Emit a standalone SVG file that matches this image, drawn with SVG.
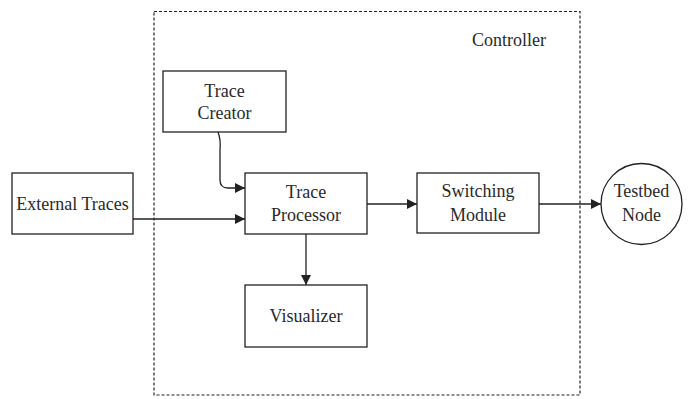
<svg xmlns="http://www.w3.org/2000/svg" width="692" height="399" viewBox="0 0 692 399">
  <style>
    .box { fill: #fff; stroke: #222; stroke-width: 1.3; }
    .lbl { font-family: "Liberation Serif", "Times New Roman", serif; font-size: 18px; fill: #2a2a2a; text-anchor: middle; }
    .edge { fill: none; stroke: #222; stroke-width: 1.3; }
  </style>
  <defs>
    <marker id="arrow" viewBox="0 0 10 10" refX="10" refY="5" markerWidth="10" markerHeight="10" markerUnits="userSpaceOnUse" orient="auto">
      <path d="M0,0 L10,5 L0,10 z" fill="#222"/>
    </marker>
  </defs>
  <rect width="692" height="399" fill="#fff"/>

  <!-- Controller boundary -->
  <g id="controller">
    <rect x="154" y="11.5" width="426" height="383.5" fill="none" stroke="#222" stroke-width="1.2" stroke-dasharray="3,2"/>
    <text class="lbl" x="509" y="46">Controller</text>
  </g>

  <g id="trace-creator">
    <rect class="box" x="163" y="71" width="123" height="61"/>
    <text class="lbl" x="224.5" y="97">Trace</text>
    <text class="lbl" x="224.5" y="119">Creator</text>
  </g>

  <g id="external-traces">
    <rect class="box" x="12" y="173" width="121" height="61"/>
    <text class="lbl" x="72.5" y="210">External Traces</text>
  </g>

  <g id="trace-processor">
    <rect class="box" x="245" y="173" width="122" height="61"/>
    <text class="lbl" x="306" y="198">Trace</text>
    <text class="lbl" x="306" y="221">Processor</text>
  </g>

  <g id="switching-module">
    <rect class="box" x="417" y="173" width="122" height="60"/>
    <text class="lbl" x="478" y="197">Switching</text>
    <text class="lbl" x="478" y="221">Module</text>
  </g>

  <g id="testbed-node">
    <circle class="box" cx="641.5" cy="204" r="40.5"/>
    <text class="lbl" x="641.5" y="197">Testbed</text>
    <text class="lbl" x="641.5" y="221">Node</text>
  </g>

  <g id="visualizer">
    <rect class="box" x="245" y="285" width="122" height="62"/>
    <text class="lbl" x="306" y="322">Visualizer</text>
  </g>

  <g id="connectors">
    <path class="edge" d="M218,132 Q221,140 220,150 L220,180 Q220,188 228,188 L245,188" marker-end="url(#arrow)"/>
    <path class="edge" d="M133,219 L245,219" marker-end="url(#arrow)"/>
    <path class="edge" d="M367,204 L417,204" marker-end="url(#arrow)"/>
    <path class="edge" d="M539,204 L601,204" marker-end="url(#arrow)"/>
    <path class="edge" d="M306,234 L306,285" marker-end="url(#arrow)"/>
  </g>
</svg>
